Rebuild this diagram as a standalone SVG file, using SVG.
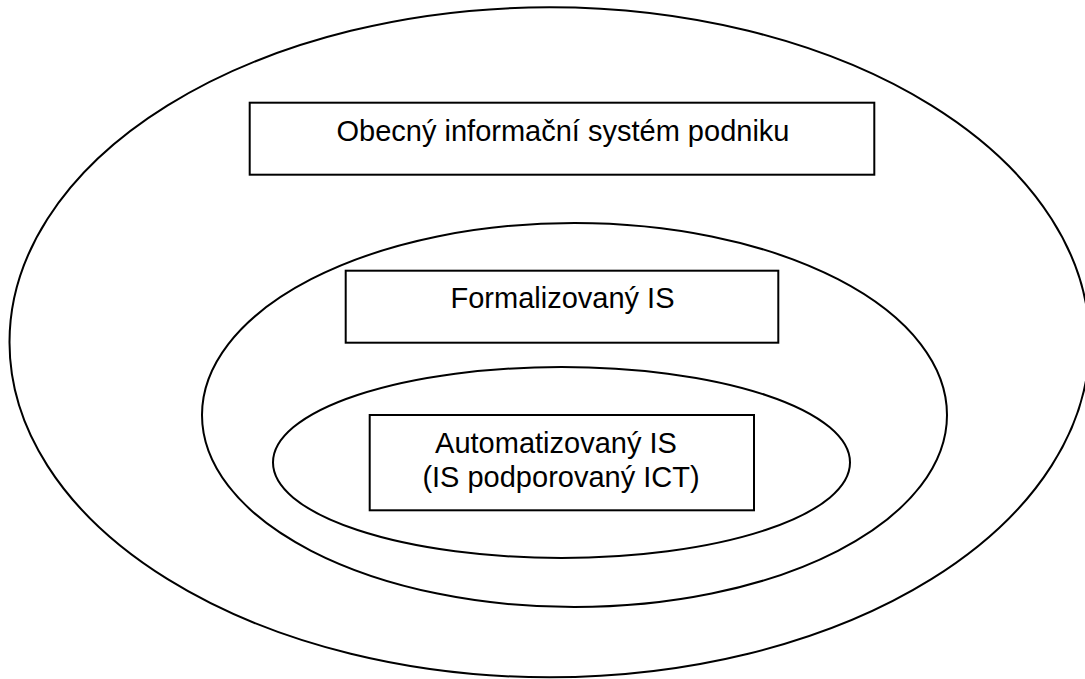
<svg xmlns="http://www.w3.org/2000/svg" width="1085" height="679" viewBox="0 0 1085 679">
  <style>
    .ring { fill: none; stroke: #000; stroke-width: 2; }
    .box { fill: #fff; stroke: #000; stroke-width: 2; }
    .label { font-family: "Liberation Sans", Arial, sans-serif; font-size: 29px; fill: #000; text-anchor: middle; }
  </style>
  <rect width="1085" height="679" fill="#fff"/>

  <!-- nested system boundaries -->
  <g id="ring-general">
    <ellipse class="ring" cx="549.5" cy="342.3" rx="540" ry="335"/>
  </g>
  <g id="ring-formal">
    <ellipse class="ring" cx="574.5" cy="415" rx="372.5" ry="192"/>
  </g>
  <g id="ring-automated">
    <ellipse class="ring" cx="561.5" cy="462.5" rx="288.5" ry="95.5"/>
  </g>

  <!-- labels -->
  <g id="box-general">
    <rect class="box" x="249.7" y="102.7" width="624.6" height="72"/>
    <text class="label" x="563" y="140.7">Obecný informační systém podniku</text>
  </g>
  <g id="box-formal">
    <rect class="box" x="345.7" y="270.7" width="432.6" height="72"/>
    <text class="label" x="562.5" y="308.3">Formalizovaný IS</text>
  </g>
  <g id="box-automated">
    <rect class="box" x="369.7" y="415" width="384.3" height="95.3"/>
    <text class="label" x="556" y="453">Automatizovaný IS</text>
    <text class="label" x="561" y="487">(IS podporovaný ICT)</text>
  </g>

  <g id="connectors"/>
</svg>
